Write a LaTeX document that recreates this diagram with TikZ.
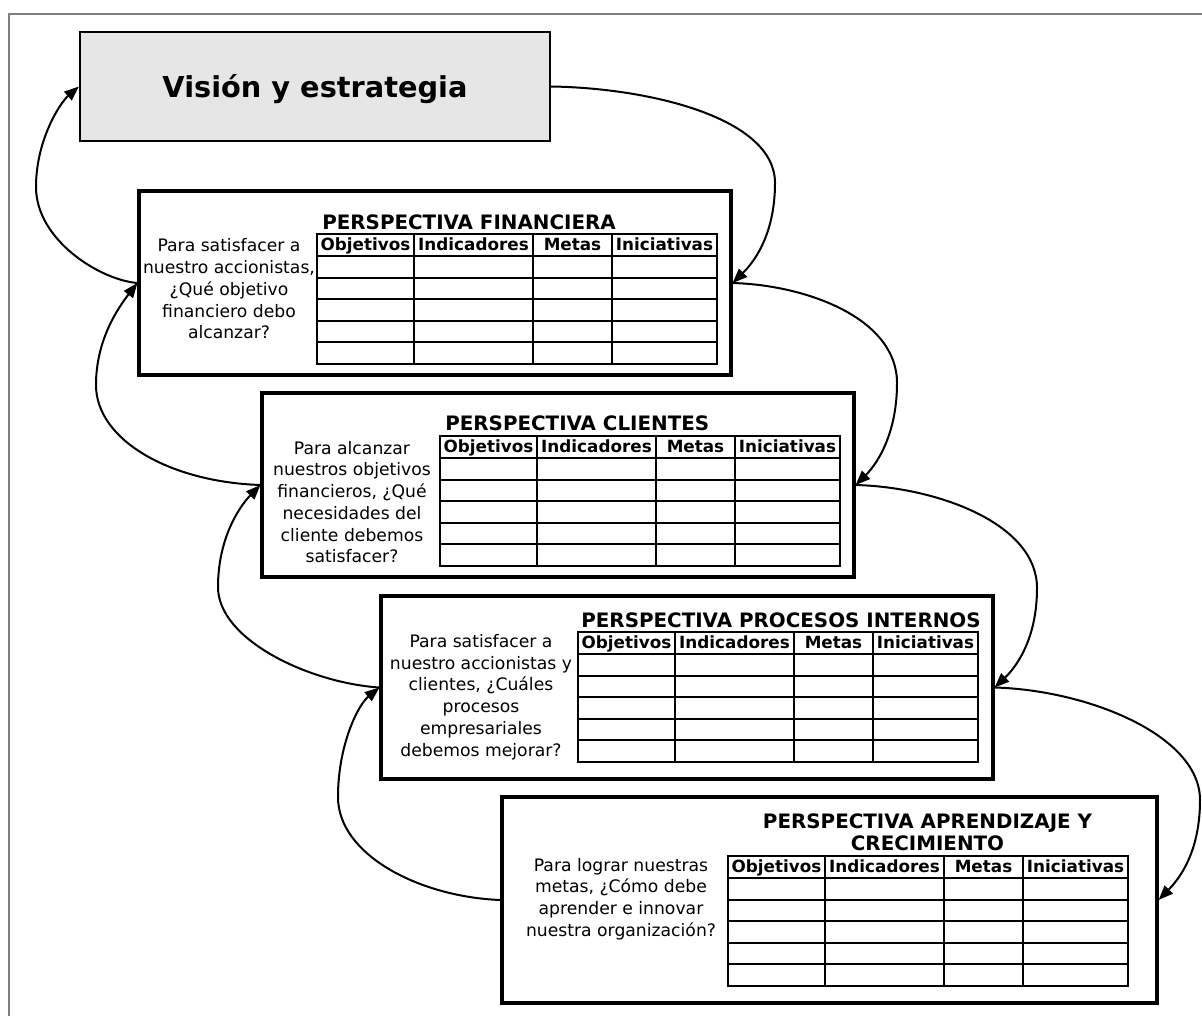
\documentclass[tikz,border=0pt]{standalone}
\usepackage{fontspec}
\setmainfont{DejaVu Sans}
\usetikzlibrary{arrows.meta}
\definecolor{visfill}{RGB}{230,230,230}
\definecolor{framegray}{RGB}{128,128,128}
\newcommand\bsctable[3]{%
  \begin{scope}[shift={(#2,#3)}]
    \draw[tabline] (0,0) rectangle (400,130);
    \foreach \yy in {22,43.6,65.2,86.8,108.4} \draw[tabline] (0,\yy) -- (400,\yy);
    \foreach \xx in {97,216,295} \draw[tabline] (\xx,0) -- (\xx,130);
    \node[hdr] (#1-obj) at (48.5,16.7) {Objetivos};
    \node[hdr] (#1-ind) at (156.5,16.7) {Indicadores};
    \node[hdr] (#1-met) at (255.5,16.7) {Metas};
    \node[hdr] (#1-ini) at (347.5,16.7) {Iniciativas};
  \end{scope}}
\begin{document}
\begin{tikzpicture}[x=0.75pt,y=-0.75pt,
  persp/.style={draw=black,fill=white,line width=2.4pt,inner sep=0pt},
  tabline/.style={draw=black,line width=1.5pt},
  hdr/.style={anchor=base,inner sep=0pt,font=\bfseries\fontsize{12.6}{15}\selectfont},
  ttl/.style={inner sep=0pt,font=\bfseries\fontsize{14.9}{16.5}\selectfont},
  body/.style={align=center,inner sep=0pt,font=\fontsize{12.9}{16.3}\selectfont},
  conn/.style={draw=black,line width=1.5pt,-{Triangle[length=11pt,width=8.5pt]}}]
\useasboundingbox (0,0) rectangle (1202,1016);
\draw[framegray,line width=1.5pt] (9,1016) -- (9,14) -- (1202,14);

% boxes
\node[draw=black,fill=visfill,line width=1.6pt,minimum width=352.5pt,minimum height=81.75pt,
      inner sep=0pt,text height=17.2pt,text depth=0pt,font=\bfseries\fontsize{21.6}{26}\selectfont]
      (vis) at (315,86.5) {Visión y estrategia};
\node[persp,minimum width=444pt,minimum height=138pt] (fin) at (435,283) {};
\node[persp,minimum width=444pt,minimum height=138pt] (cli) at (558,485) {};
\node[persp,minimum width=459pt,minimum height=137.25pt] (pro) at (687,687.5) {};
\node[persp,minimum width=491.25pt,minimum height=154.5pt] (apr) at (829.5,900) {};

% financiera
\node[ttl,anchor=base west] (fint) at (322,229) {PERSPECTIVA FINANCIERA};
\bsctable{fintab}{317}{234}
\node[body] (finq) at (229,289) {Para satisfacer a\\nuestro accionistas,\\¿Qué objetivo\\financiero debo\\alcanzar?};

% clientes
\node[ttl,anchor=base west] (clit) at (445,430) {PERSPECTIVA CLIENTES};
\bsctable{clitab}{440}{436}
\node[body] (cliq) at (352,502) {Para alcanzar\\nuestros objetivos\\financieros, ¿Qué\\necesidades del\\cliente debemos\\satisfacer?};

% procesos
\node[ttl,anchor=base] (prot) at (781,627) {PERSPECTIVA PROCESOS INTERNOS};
\bsctable{protab}{578}{632}
\node[body] (proq) at (481,697) {Para satisfacer a\\nuestro accionistas y\\clientes, ¿Cuáles\\procesos\\empresariales\\debemos mejorar?};

% aprendizaje
\node[ttl,align=center] (aprt) at (927.5,832.5) {PERSPECTIVA APRENDIZAJE Y\\CRECIMIENTO};
\bsctable{aprtab}{728}{856}
\node[body] (aprq) at (621,899) {Para lograr nuestras\\metas, ¿Cómo debe\\aprender e innovar\\nuestra organización?};

% left connectors
\draw[conn] (fin.west) .. controls (100,280) and (36,240) .. (36,187) .. controls (36,140) and (60,103) .. (vis.west);
\draw[conn] (cli.west) .. controls (170,482) and (96,440) .. (96,385) .. controls (96,340) and (118,308) .. (fin.west);
\draw[conn] (pro.west) .. controls (310,683) and (218,640) .. (218,587) .. controls (218,540) and (238,508) .. (cli.west);
\draw[conn] (apr.west) .. controls (420,897) and (338,855) .. (338,797) .. controls (338,745) and (358,705) .. (pro.west);

% right connectors
\draw[conn] (vis.east) .. controls (650,88) and (775,118) .. (775,183) .. controls (775,238) and (751,265) .. (fin.east);
\draw[conn] (fin.east) .. controls (806,285) and (897,318) .. (897,383) .. controls (897,438) and (874,467) .. (cli.east);
\draw[conn] (cli.east) .. controls (936,487) and (1037,523) .. (1037,588) .. controls (1037,643) and (1013,670) .. (pro.east);
\draw[conn] (pro.east) .. controls (1087,690) and (1200,735) .. (1200,800) .. controls (1200,855) and (1177,881) .. (apr.east);
\end{tikzpicture}
\end{document}
